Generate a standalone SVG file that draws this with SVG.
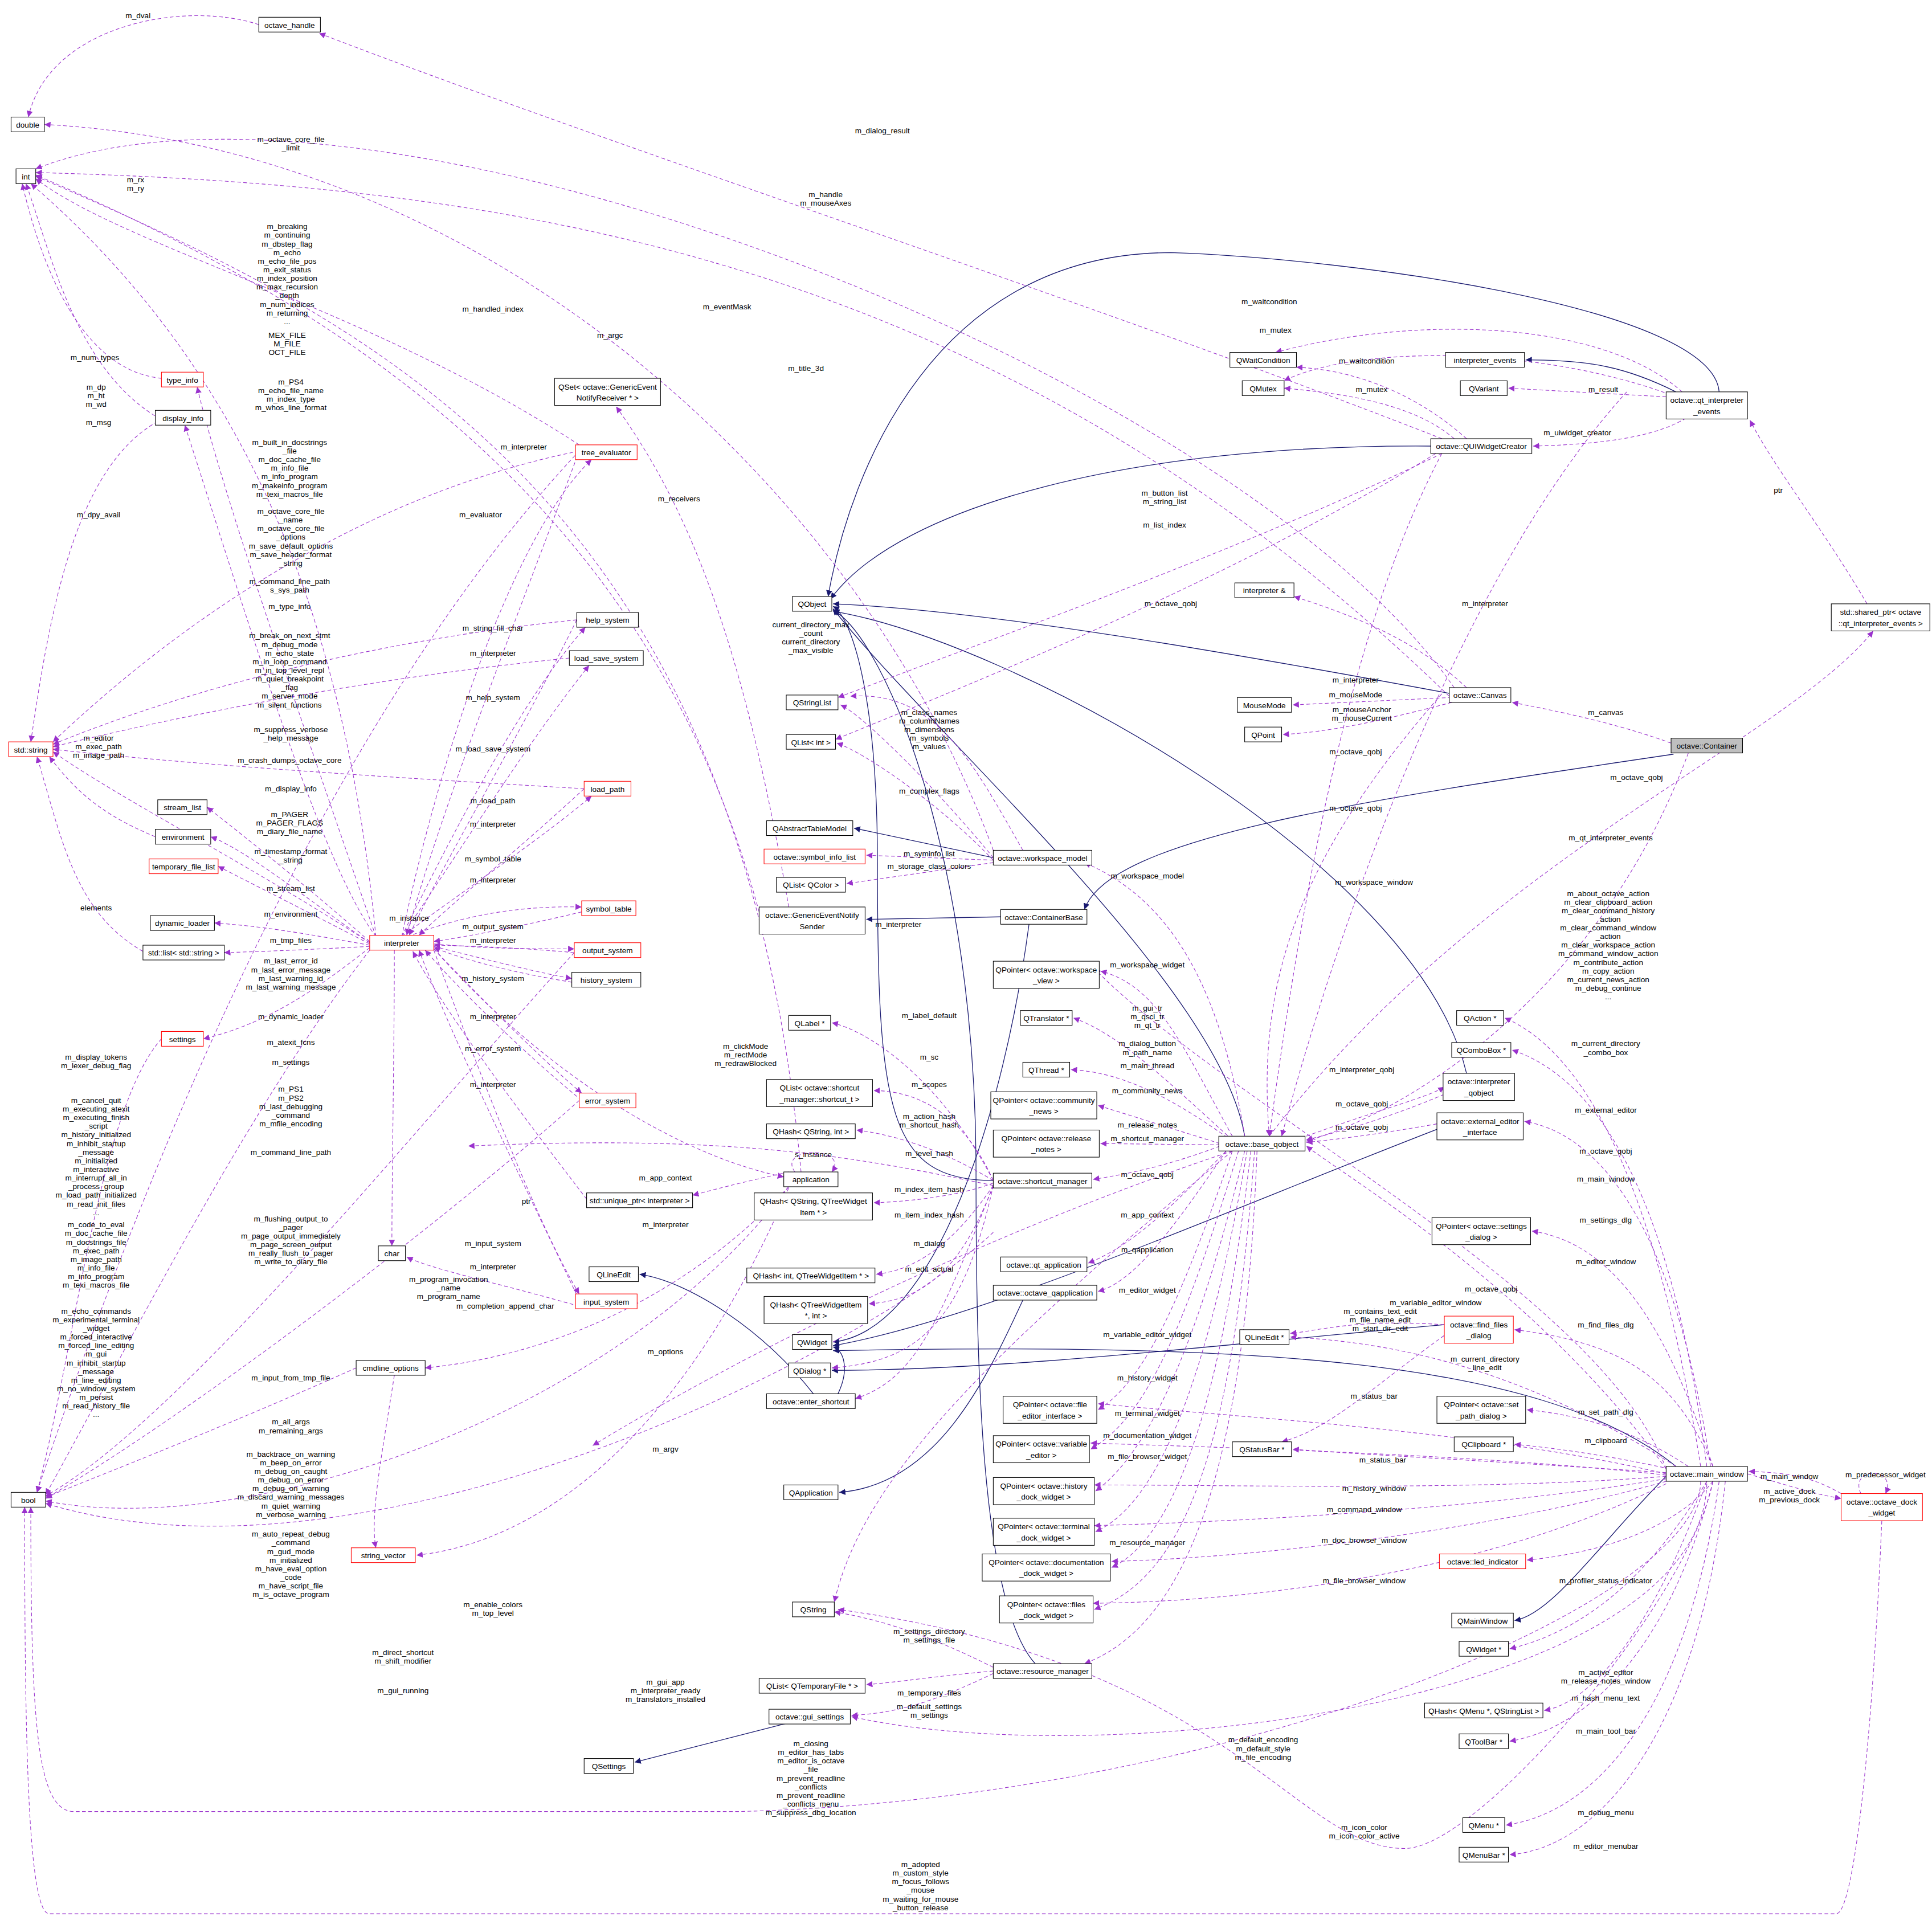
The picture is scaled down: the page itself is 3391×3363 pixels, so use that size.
<svg xmlns="http://www.w3.org/2000/svg" width="3391" height="3363" viewBox="0 0 3391 3363">
<defs>
<marker id="ap" viewBox="0 0 10 10" refX="10" refY="5" markerWidth="5" markerHeight="5" markerUnits="userSpaceOnUse" orient="auto"><path d="M0,0 L10,5 L0,10 z" fill="#9a32cd"/></marker>
<marker id="an" viewBox="0 0 10 10" refX="10" refY="5" markerWidth="5" markerHeight="5" markerUnits="userSpaceOnUse" orient="auto"><path d="M0,0 L10,5 L0,10 z" fill="#191970"/></marker>
</defs>
<style>
.n rect{fill:#fff;stroke:#000;stroke-width:0.5}
.r rect{stroke:#ff0000}
.g rect{fill:#bfbfbf}
text{font-family:"Liberation Sans",Arial,sans-serif;font-size:6.3px;fill:#000;text-anchor:middle}
.e path{fill:none;stroke:#9a32cd;stroke-width:0.5;stroke-dasharray:3,2;marker-end:url(#ap)}
.i path{fill:none;stroke:#191970;stroke-width:0.6;marker-end:url(#an)}
</style>
<rect width="3391" height="3363" fill="#fff"/>
<g transform="scale(2.163)">
<g id="connectors">
<g class="i">
<path d="M1395,318 C1390,250 1100,210 950,205 C760,205 690,380 672,484"/>
<path d="M1360,318 C1320,298 1290,292 1238,292"/>
<path d="M1163,362 C920,360 730,410 674,486"/>
<path d="M1178,563 C1000,530 800,495 676,490"/>
<path d="M1010,922 C990,800 760,600 676,494"/>
<path d="M1190,871 C1150,700 820,520 676,496"/>
<path d="M806,696 L693,672"/>
<path d="M812,744 L703,746"/>
<path d="M1358,612 C1100,650 900,680 880,738"/>
<path d="M835,750 C815,900 760,1080 676,1089"/>
<path d="M806,958 C720,958 712,900 712,700 C712,560 690,500 676,492"/>
<path d="M1352,1198 C1300,1250 1260,1310 1229,1315"/>
<path d="M1172,1075 C1000,1090 820,1112 675,1112"/>
<path d="M1180,911 C1000,980 800,1070 676,1092"/>
<path d="M830,1055 C800,1120 760,1205 681,1211"/>
<path d="M660,1131 C620,1080 560,1040 519,1034"/>
<path d="M680,1131 C690,1110 684,1095 676,1093"/>
<path d="M640,1398 L515,1430"/>
<path d="M840,1350 C795,1300 792,1100 792,950 C792,700 720,520 676,495"/>
<path d="M1360,1190 C1250,1100 1000,1090 676,1096"/>
</g>
<g class="e">
<path d="M210,20 C150,0 40,20 23,95"/>
<path d="M1170,356 C900,250 500,120 259,27"/>
<path d="M1180,558 C1000,300 300,30 29,137"/>
<path d="M305,760 C280,500 200,300 25,149"/>
<path d="M470,361 C300,250 100,200 29,145"/>
<path d="M130,340 C60,300 40,200 21,149"/>
<path d="M131,307 C60,300 30,200 18,149"/>
<path d="M128,342 C60,380 40,500 25,602"/>
<path d="M616,740 C550,500 400,300 29,142"/>
<path d="M650,951 C600,400 300,260 29,143"/>
<path d="M1176,565 C800,200 400,150 29,140"/>
<path d="M806,690 C700,400 400,120 36,101"/>
<path d="M640,736 C600,500 550,400 500,330"/>
<path d="M305,760 C250,600 180,400 160,314"/>
<path d="M305,760 C260,700 200,500 150,345"/>
<path d="M300,765 C200,700 100,650 43,610"/>
<path d="M470,366 C300,400 150,500 43,602"/>
<path d="M468,503 C300,520 150,560 43,604"/>
<path d="M462,534 C300,550 150,580 43,606"/>
<path d="M474,640 C300,630 150,620 43,608"/>
<path d="M126,679 C80,660 60,640 40,614"/>
<path d="M116,772 C60,740 50,680 30,614"/>
<path d="M300,764 C250,720 200,680 168,655"/>
<path d="M300,765 C250,730 200,690 171,679"/>
<path d="M300,766 C250,740 210,720 177,703"/>
<path d="M300,767 C260,760 220,752 174,749"/>
<path d="M300,768 C260,770 220,772 182,773"/>
<path d="M300,769 C260,800 220,830 165,843"/>
<path d="M326,760 C360,600 420,430 480,373"/>
<path d="M470,366 C420,500 360,650 330,759"/>
<path d="M326,760 C380,650 430,560 475,509"/>
<path d="M468,503 C420,600 360,700 332,759"/>
<path d="M326,760 C380,680 430,600 478,540"/>
<path d="M326,760 C380,720 440,680 480,646"/>
<path d="M474,640 C420,690 370,730 340,759"/>
<path d="M326,762 C380,740 430,735 472,736"/>
<path d="M472,740 C430,750 380,760 352,764"/>
<path d="M352,766 C400,770 430,770 466,770"/>
<path d="M466,773 C430,770 400,768 352,767"/>
<path d="M352,768 C400,780 440,790 464,794"/>
<path d="M464,797 C420,790 380,780 352,769"/>
<path d="M352,770 C400,820 440,860 472,887"/>
<path d="M472,893 C420,850 370,800 345,771"/>
<path d="M352,771 C400,900 440,1000 470,1050"/>
<path d="M470,1055 C420,950 370,850 340,771"/>
<path d="M352,770 C450,880 560,940 636,955"/>
<path d="M476,973 C420,900 360,820 335,772"/>
<path d="M640,951 C600,960 580,965 562,970"/>
<path d="M645,951 C630,930 690,930 675,951"/>
<path d="M640,963 C560,1050 450,1100 345,1110"/>
<path d="M320,1116 C310,1180 300,1230 305,1256"/>
<path d="M640,964 C560,1150 450,1250 338,1262"/>
<path d="M320,771 C320,850 318,950 318,1011"/>
<path d="M470,1060 C400,1040 350,1030 330,1020"/>
<path d="M131,843 C80,900 60,1100 30,1211"/>
<path d="M300,771 C200,900 100,1100 37,1213"/>
<path d="M289,1110 C200,1150 100,1190 37,1215"/>
<path d="M640,963 C500,1150 200,1250 37,1218"/>
<path d="M470,893 C350,1000 150,1150 37,1216"/>
<path d="M466,773 C350,900 150,1150 37,1214"/>
<path d="M470,366 C250,600 100,1000 30,1211"/>
<path d="M1380,1202 C1380,1300 1000,1460 600,1470 L60,1470 C30,1470 25,1400 25,1223"/>
<path d="M1527,1234 C1520,1400 1505,1553 1490,1553 L40,1553 C22,1553 20,1400 20,1223"/>
<path d="M1390,1202 C1370,1300 1200,1500 1140,1500 C1050,1500 1000,1350 680,1306"/>
<path d="M806,1000 C700,1100 300,1300 37,1220"/>
<path d="M1365,318 C1300,260 1150,255 1035,286"/>
<path d="M1360,322 C1250,280 1100,280 1042,309"/>
<path d="M1352,322 L1224,315"/>
<path d="M1380,330 C1360,350 1320,360 1244,362"/>
<path d="M1190,356 C1150,320 1100,300 1052,298"/>
<path d="M1180,356 C1150,330 1100,320 1042,315"/>
<path d="M1170,368 C1000,450 800,520 680,566"/>
<path d="M1165,368 C1000,470 800,550 678,600"/>
<path d="M1515,490 C1480,430 1440,380 1420,341"/>
<path d="M1190,558 C1150,520 1100,500 1050,484"/>
<path d="M1178,566 L1049,572"/>
<path d="M1178,570 C1120,585 1080,594 1041,596"/>
<path d="M1356,603 C1320,590 1280,580 1227,570"/>
<path d="M1030,922 C1200,700 1450,600 1520,512"/>
<path d="M1060,922 C1120,900 1160,890 1172,882"/>
<path d="M1172,888 C1120,910 1080,920 1060,925"/>
<path d="M1166,912 C1120,920 1090,924 1060,927"/>
<path d="M1352,1192 C1250,1050 1100,960 1060,930"/>
<path d="M1010,922 C990,800 950,730 880,700"/>
<path d="M1000,922 C960,850 940,800 893,788"/>
<path d="M1000,925 C950,880 910,840 871,826"/>
<path d="M1000,926 C950,890 910,870 869,868"/>
<path d="M990,928 L891,897"/>
<path d="M990,929 L893,928"/>
<path d="M990,930 C950,945 920,952 887,957"/>
<path d="M995,934 C950,980 920,1010 883,1025"/>
<path d="M995,934 C950,1000 920,1040 891,1048"/>
<path d="M1000,934 C960,1050 930,1120 891,1144"/>
<path d="M1005,934 C960,1080 930,1150 885,1176"/>
<path d="M1010,934 C970,1100 930,1180 889,1210"/>
<path d="M1012,934 C980,1120 940,1220 889,1243"/>
<path d="M1015,934 C990,1150 950,1250 902,1272"/>
<path d="M1018,934 C1000,1180 960,1280 888,1306"/>
<path d="M1020,934 C1010,1200 960,1320 880,1350"/>
<path d="M1000,934 C800,1100 700,1200 677,1300"/>
<path d="M1380,1190 C1350,1000 1300,860 1221,826"/>
<path d="M1385,1190 C1360,1000 1310,880 1227,852"/>
<path d="M1388,1190 C1360,1000 1300,920 1237,910"/>
<path d="M1390,1190 C1360,1100 1320,1010 1243,999"/>
<path d="M1390,1190 C1360,1120 1320,1090 1229,1079"/>
<path d="M1360,1190 C1250,1120 1150,1090 1047,1085"/>
<path d="M1370,1190 C1340,1170 1300,1150 1239,1144"/>
<path d="M1360,1193 C1300,1180 1260,1175 1229,1172"/>
<path d="M1352,1195 C1200,1185 1100,1180 1049,1176"/>
<path d="M1418,1196 C1450,1205 1470,1212 1494,1216"/>
<path d="M1494,1212 C1470,1198 1450,1195 1419,1194"/>
<path d="M1510,1212 C1500,1190 1540,1190 1530,1212"/>
<path d="M1390,1202 C1360,1240 1300,1260 1239,1266"/>
<path d="M1385,1202 C1350,1260 1300,1320 1225,1338"/>
<path d="M1385,1202 C1350,1300 1300,1380 1253,1388"/>
<path d="M1390,1202 C1360,1320 1300,1400 1225,1413"/>
<path d="M1395,1202 C1370,1380 1300,1470 1222,1481"/>
<path d="M1400,1202 C1380,1400 1300,1500 1225,1505"/>
<path d="M1352,1198 C1200,1210 1000,1205 888,1205"/>
<path d="M1352,1200 C1200,1225 1000,1235 888,1238"/>
<path d="M1352,1202 C1200,1245 1000,1265 902,1267"/>
<path d="M1352,1204 C1200,1280 1000,1300 887,1301"/>
<path d="M1352,1192 C1300,1050 1000,900 888,786"/>
<path d="M1352,1196 C1200,1160 1000,1150 891,1139"/>
<path d="M1352,1197 C1200,1180 1000,1175 885,1171"/>
<path d="M1385,1204 C1380,1380 900,1440 691,1393"/>
<path d="M1000,934 C800,1000 600,1100 481,1173"/>
<path d="M806,696 C760,640 700,580 682,572"/>
<path d="M806,698 C760,650 700,610 679,603"/>
<path d="M806,698 L703,694"/>
<path d="M806,700 L687,717"/>
<path d="M806,958 C760,870 700,835 675,830"/>
<path d="M806,958 C780,900 740,885 709,885"/>
<path d="M806,958 C760,930 720,920 695,917"/>
<path d="M806,960 C780,970 740,975 709,976"/>
<path d="M806,962 C780,1000 750,1030 711,1034"/>
<path d="M806,962 C780,1030 750,1055 705,1058"/>
<path d="M806,962 C780,1080 740,1105 675,1110"/>
<path d="M806,962 C760,1080 740,1120 694,1135"/>
<path d="M806,962 C700,940 600,920 380,930"/>
<path d="M806,1353 C760,1330 720,1315 677,1308"/>
<path d="M806,1356 C760,1360 730,1365 703,1367"/>
<path d="M806,1358 C760,1380 730,1390 691,1392"/>
<path d="M1172,1075 C1100,1070 1070,1080 1047,1082"/>
<path d="M1180,1078 C1120,1120 1080,1160 1040,1170"/>
<path d="M1170,563 C1050,700 1020,800 1030,922"/>
<path d="M1320,318 C1200,450 1100,700 1040,922"/>
<path d="M1170,368 C1100,500 1060,700 1030,922"/>
<path d="M1370,611 C1300,800 1150,900 1060,926"/>
<path d="M830,690 C790,620 760,560 690,565"/>
</g>
</g>
<g id="labels">
<text x="112" y="15">m_dval</text>
<text x="236" y="115">m_octave_core_file</text><text x="236" y="122">_limit</text>
<text x="110" y="148">m_rx</text><text x="110" y="155">m_ry</text>
<text x="233" y="186">m_breaking</text><text x="233" y="193">m_continuing</text><text x="233" y="200">m_dbstep_flag</text><text x="233" y="207">m_echo</text><text x="233" y="214">m_echo_file_pos</text><text x="233" y="221">m_exit_status</text><text x="233" y="228">m_index_position</text><text x="233" y="235">m_max_recursion</text><text x="233" y="242">_depth</text><text x="233" y="249">m_num_indices</text><text x="233" y="256">m_returning</text><text x="233" y="263">...</text>
<text x="400" y="253">m_handled_index</text>
<text x="495" y="274">m_argc</text>
<text x="233" y="274">MEX_FILE</text><text x="233" y="281">M_FILE</text><text x="233" y="288">OCT_FILE</text>
<text x="77" y="292">m_num_types</text>
<text x="78" y="316">m_dp</text><text x="78" y="323">m_ht</text><text x="78" y="330">m_wd</text><text x="80" y="345">m_msg</text>
<text x="236" y="312">m_PS4</text><text x="236" y="319">m_echo_file_name</text><text x="236" y="326">m_index_type</text><text x="236" y="333">m_whos_line_format</text>
<text x="235" y="361">m_built_in_docstrings</text><text x="235" y="368">_file</text><text x="235" y="375">m_doc_cache_file</text><text x="235" y="382">m_info_file</text><text x="235" y="389">m_info_program</text><text x="235" y="396">m_makeinfo_program</text><text x="235" y="403">m_texi_macros_file</text>
<text x="236" y="417">m_octave_core_file</text><text x="236" y="424">_name</text><text x="236" y="431">m_octave_core_file</text><text x="236" y="438">_options</text><text x="236" y="445">m_save_default_options</text><text x="236" y="452">m_save_header_format</text><text x="236" y="459">_string</text>
<text x="80" y="420">m_dpy_avail</text>
<text x="235" y="474">m_command_line_path</text><text x="235" y="481">s_sys_path</text>
<text x="235" y="494">m_type_info</text>
<text x="235" y="518">m_break_on_next_stmt</text><text x="235" y="525">m_debug_mode</text><text x="235" y="532">m_echo_state</text><text x="235" y="539">m_in_loop_command</text><text x="235" y="546">m_in_top_level_repl</text><text x="235" y="553">m_quiet_breakpoint</text><text x="235" y="560">_flag</text><text x="235" y="567">m_server_mode</text><text x="235" y="574">m_silent_functions</text>
<text x="236" y="594">m_suppress_verbose</text><text x="236" y="601">_help_message</text>
<text x="80" y="601">m_editor</text><text x="80" y="608">m_exec_path</text><text x="80" y="615">m_image_path</text>
<text x="235" y="619">m_crash_dumps_octave_core</text>
<text x="400" y="512">m_string_fill_char</text>
<text x="400" y="532">m_interpreter</text>
<text x="400" y="568">m_help_system</text>
<text x="400" y="610">m_load_save_system</text>
<text x="400" y="652">m_load_path</text>
<text x="400" y="671">m_interpreter</text>
<text x="400" y="699">m_symbol_table</text>
<text x="400" y="716">m_interpreter</text>
<text x="400" y="754">m_output_system</text>
<text x="400" y="765">m_interpreter</text>
<text x="400" y="796">m_history_system</text>
<text x="400" y="827">m_interpreter</text>
<text x="400" y="853">m_error_system</text>
<text x="400" y="882">m_interpreter</text>
<text x="390" y="420">m_evaluator</text>
<text x="425" y="365">m_interpreter</text>
<text x="236" y="642">m_display_info</text>
<text x="235" y="663">m_PAGER</text><text x="235" y="670">m_PAGER_FLAGS</text><text x="235" y="677">m_diary_file_name</text>
<text x="236" y="693">m_timestamp_format</text><text x="236" y="700">_string</text>
<text x="236" y="723">m_stream_list</text>
<text x="236" y="744">m_environment</text>
<text x="78" y="739">elements</text>
<text x="332" y="747">m_instance</text>
<text x="236" y="765">m_tmp_files</text>
<text x="236" y="782">m_last_error_id</text><text x="236" y="789">m_last_error_message</text><text x="236" y="796">m_last_warning_id</text><text x="236" y="803">m_last_warning_message</text>
<text x="236" y="827">m_dynamic_loader</text>
<text x="236" y="848">m_atexit_fcns</text>
<text x="236" y="864">m_settings</text>
<text x="78" y="860">m_display_tokens</text><text x="78" y="867">m_lexer_debug_flag</text>
<text x="236" y="886">m_PS1</text><text x="236" y="893">m_PS2</text><text x="236" y="900">m_last_debugging</text><text x="236" y="907">_command</text><text x="236" y="914">m_mfile_encoding</text>
<text x="78" y="895">m_cancel_quit</text><text x="78" y="902">m_executing_atexit</text><text x="78" y="909">m_executing_finish</text><text x="78" y="916">_script</text><text x="78" y="923">m_history_initialized</text><text x="78" y="930">m_inhibit_startup</text><text x="78" y="937">_message</text><text x="78" y="944">m_initialized</text><text x="78" y="951">m_interactive</text><text x="78" y="958">m_interrupt_all_in</text><text x="78" y="965">_process_group</text><text x="78" y="972">m_load_path_initialized</text><text x="78" y="979">m_read_init_files</text><text x="78" y="986">...</text>
<text x="236" y="937">m_command_line_path</text>
<text x="540" y="958">m_app_context</text>
<text x="427" y="977">ptr</text>
<text x="540" y="996">m_interpreter</text>
<text x="78" y="996">m_code_to_eval</text><text x="78" y="1003">m_doc_cache_file</text><text x="78" y="1010">m_docstrings_file</text><text x="78" y="1017">m_exec_path</text><text x="78" y="1024">m_image_path</text><text x="78" y="1031">m_info_file</text><text x="78" y="1038">m_info_program</text><text x="78" y="1045">m_texi_macros_file</text>
<text x="236" y="991">m_flushing_output_to</text><text x="236" y="998">_pager</text><text x="236" y="1005">m_page_output_immediately</text><text x="236" y="1012">m_page_screen_output</text><text x="236" y="1019">m_really_flush_to_pager</text><text x="236" y="1026">m_write_to_diary_file</text>
<text x="400" y="1011">m_input_system</text>
<text x="400" y="1030">m_interpreter</text>
<text x="364" y="1040">m_program_invocation</text><text x="364" y="1047">_name</text><text x="364" y="1054">m_program_name</text>
<text x="410" y="1062">m_completion_append_char</text>
<text x="78" y="1066">m_echo_commands</text><text x="78" y="1073">m_experimental_terminal</text><text x="78" y="1080">_widget</text><text x="78" y="1087">m_forced_interactive</text><text x="78" y="1094">m_forced_line_editing</text><text x="78" y="1101">m_gui</text><text x="78" y="1108">m_inhibit_startup</text><text x="78" y="1115">_message</text><text x="78" y="1122">m_line_editing</text><text x="78" y="1129">m_no_window_system</text><text x="78" y="1136">m_persist</text><text x="78" y="1143">m_read_history_file</text><text x="78" y="1150">...</text>
<text x="540" y="1099">m_options</text>
<text x="236" y="1120">m_input_from_tmp_file</text>
<text x="236" y="1156">m_all_args</text><text x="236" y="1163">m_remaining_args</text>
<text x="236" y="1182">m_backtrace_on_warning</text><text x="236" y="1189">m_beep_on_error</text><text x="236" y="1196">m_debug_on_caught</text><text x="236" y="1203">m_debug_on_error</text><text x="236" y="1210">m_debug_on_warning</text><text x="236" y="1217">m_discard_warning_messages</text><text x="236" y="1224">m_quiet_warning</text><text x="236" y="1231">m_verbose_warning</text>
<text x="540" y="1178">m_argv</text>
<text x="236" y="1247">m_auto_repeat_debug</text><text x="236" y="1254">_command</text><text x="236" y="1261">m_gud_mode</text><text x="236" y="1268">m_initialized</text>
<text x="236" y="1275">m_have_eval_option</text><text x="236" y="1282">_code</text><text x="236" y="1289">m_have_script_file</text><text x="236" y="1296">m_is_octave_program</text>
<text x="400" y="1304">m_enable_colors</text><text x="400" y="1311">m_top_level</text>
<text x="327" y="1343">m_direct_shortcut</text><text x="327" y="1350">m_shift_modifier</text>
<text x="327" y="1374">m_gui_running</text>
<text x="540" y="1367">m_gui_app</text><text x="540" y="1374">m_interpreter_ready</text><text x="540" y="1381">m_translators_installed</text>
<text x="658" y="1417">m_closing</text><text x="658" y="1424">m_editor_has_tabs</text><text x="658" y="1431">m_editor_is_octave</text><text x="658" y="1438">_file</text><text x="658" y="1445">m_prevent_readline</text><text x="658" y="1452">_conflicts</text><text x="658" y="1459">m_prevent_readline</text><text x="658" y="1466">_conflicts_menu</text><text x="658" y="1473">m_suppress_dbg_location</text>
<text x="747" y="1515">m_adopted</text><text x="747" y="1522">m_custom_style</text><text x="747" y="1529">m_focus_follows</text><text x="747" y="1536">_mouse</text><text x="747" y="1543">m_waiting_for_mouse</text><text x="747" y="1550">_button_release</text>
<text x="605" y="851">m_clickMode</text><text x="605" y="858">m_rectMode</text><text x="605" y="865">m_redrawBlocked</text>
<text x="590" y="251">m_eventMask</text>
<text x="551" y="407">m_receivers</text>
<text x="654" y="301">m_title_3d</text>
<text x="670" y="160">m_handle</text><text x="670" y="167">m_mouseAxes</text>
<text x="716" y="108">m_dialog_result</text>
<text x="1030" y="247">m_waitcondition</text>
<text x="1035" y="270">m_mutex</text>
<text x="1109" y="295">m_waitcondition</text>
<text x="1113" y="318">m_mutex</text>
<text x="1301" y="318">m_result</text>
<text x="1280" y="353">m_uiwidget_creator</text>
<text x="1443" y="400">ptr</text>
<text x="945" y="402">m_button_list</text><text x="945" y="409">m_string_list</text>
<text x="945" y="428">m_list_index</text>
<text x="1205" y="492">m_interpreter</text>
<text x="1100" y="554">m_interpreter</text>
<text x="950" y="492">m_octave_qobj</text>
<text x="1100" y="566">m_mouseMode</text>
<text x="1105" y="578">m_mouseAnchor</text><text x="1105" y="585">m_mouseCurrent</text>
<text x="1100" y="612">m_octave_qobj</text>
<text x="1303" y="580">m_canvas</text>
<text x="1100" y="658">m_octave_qobj</text>
<text x="754" y="580">m_class_names</text><text x="754" y="587">m_columnNames</text><text x="754" y="594">m_dimensions</text><text x="754" y="601">m_symbols</text><text x="754" y="608">m_values</text>
<text x="658" y="509">current_directory_max</text><text x="658" y="516">_count</text><text x="658" y="523">current_directory</text><text x="658" y="530">_max_visible</text>
<text x="754" y="644">m_complex_flags</text>
<text x="754" y="695">m_syminfo_list</text>
<text x="754" y="705">m_storage_class_colors</text>
<text x="1328" y="633">m_octave_qobj</text>
<text x="1307" y="682">m_qt_interpreter_events</text>
<text x="931" y="713">m_workspace_model</text>
<text x="1115" y="718">m_workspace_window</text>
<text x="729" y="752">m_interpreter</text>
<text x="931" y="785">m_workspace_widget</text>
<text x="1305" y="727">m_about_octave_action</text><text x="1305" y="734">m_clear_clipboard_action</text><text x="1305" y="741">m_clear_command_history</text><text x="1305" y="748">_action</text><text x="1305" y="755">m_clear_command_window</text><text x="1305" y="762">_action</text><text x="1305" y="769">m_clear_workspace_action</text><text x="1305" y="776">m_command_window_action</text><text x="1305" y="783">m_contribute_action</text><text x="1305" y="790">m_copy_action</text><text x="1305" y="797">m_current_news_action</text><text x="1305" y="804">m_debug_continue</text><text x="1305" y="811">...</text>
<text x="931" y="820">m_gui_tr</text><text x="931" y="827">m_qsci_tr</text><text x="931" y="834">m_qt_tr</text>
<text x="931" y="849">m_dialog_button</text><text x="931" y="856">m_path_name</text>
<text x="931" y="867">m_main_thread</text>
<text x="931" y="887">m_community_news</text>
<text x="931" y="915">m_release_notes</text>
<text x="931" y="926">m_shortcut_manager</text>
<text x="754" y="826">m_label_default</text>
<text x="754" y="860">m_sc</text>
<text x="754" y="882">m_scopes</text>
<text x="754" y="908">m_action_hash</text><text x="754" y="915">m_shortcut_hash</text>
<text x="660" y="939">s_instance</text>
<text x="754" y="938">m_level_hash</text>
<text x="754" y="967">m_index_item_hash</text>
<text x="754" y="988">m_item_index_hash</text>
<text x="754" y="1011">m_dialog</text>
<text x="754" y="1032">m_edit_actual</text>
<text x="1105" y="870">m_interpreter_qobj</text>
<text x="1105" y="898">m_octave_qobj</text>
<text x="1105" y="917">m_octave_qobj</text>
<text x="1303" y="849">m_current_directory</text><text x="1303" y="856">_combo_box</text>
<text x="1303" y="903">m_external_editor</text>
<text x="1303" y="936">m_octave_qobj</text>
<text x="1303" y="959">m_main_window</text>
<text x="931" y="955">m_octave_qobj</text>
<text x="1303" y="992">m_settings_dlg</text>
<text x="931" y="988">m_app_context</text>
<text x="931" y="1016">m_qapplication</text>
<text x="1303" y="1026">m_editor_window</text>
<text x="931" y="1049">m_editor_widget</text>
<text x="1210" y="1048">m_octave_qobj</text>
<text x="1165" y="1059">m_variable_editor_window</text>
<text x="1120" y="1066">m_contains_text_edit</text><text x="1120" y="1073">m_file_name_edit</text><text x="1120" y="1080">m_start_dir_edit</text>
<text x="1303" y="1077">m_find_files_dlg</text>
<text x="931" y="1085">m_variable_editor_widget</text>
<text x="1205" y="1105">m_current_directory</text><text x="1205" y="1112">_line_edit</text>
<text x="931" y="1120">m_history_widget</text>
<text x="1115" y="1135">m_status_bar</text>
<text x="1303" y="1148">m_set_path_dlg</text>
<text x="931" y="1149">m_terminal_widget</text>
<text x="931" y="1167">m_documentation_widget</text>
<text x="1303" y="1171">m_clipboard</text>
<text x="1122" y="1187">m_status_bar</text>
<text x="931" y="1184">m_file_browser_widget</text>
<text x="1115" y="1210">m_history_window</text>
<text x="1107" y="1227">m_command_window</text>
<text x="1107" y="1252">m_doc_browser_window</text>
<text x="931" y="1254">m_resource_manager</text>
<text x="1452" y="1200">m_main_window</text>
<text x="1452" y="1212">m_active_dock</text><text x="1452" y="1219">m_previous_dock</text>
<text x="1530" y="1199">m_predecessor_widget</text>
<text x="1303" y="1285">m_profiler_status_indicator</text>
<text x="1107" y="1285">m_file_browser_window</text>
<text x="754" y="1326">m_settings_directory</text><text x="754" y="1333">m_settings_file</text>
<text x="754" y="1376">m_temporary_files</text>
<text x="754" y="1387">m_default_settings</text><text x="754" y="1394">m_settings</text>
<text x="1303" y="1359">m_active_editor</text><text x="1303" y="1366">m_release_notes_window</text>
<text x="1303" y="1380">m_hash_menu_text</text>
<text x="1303" y="1407">m_main_tool_bar</text>
<text x="1025" y="1414">m_default_encoding</text><text x="1025" y="1421">m_default_style</text><text x="1025" y="1428">m_file_encoding</text>
<text x="1303" y="1473">m_debug_menu</text>
<text x="1107" y="1485">m_icon_color</text><text x="1107" y="1492">m_icon_color_active</text>
<text x="1303" y="1500">m_editor_menubar</text>
</g>
<g id="n_octave_handle" class="n"><rect x="210" y="14" width="50" height="12"/><text x="235" y="22.5">octave_handle</text></g>
<g id="n_double" class="n"><rect x="9" y="95" width="27" height="12"/><text x="22.5" y="103.5">double</text></g>
<g id="n_int" class="n"><rect x="13" y="137" width="16" height="12"/><text x="21" y="145.5">int</text></g>
<g id="n_type_info" class="n r"><rect x="131" y="302" width="34" height="12"/><text x="148" y="310.5">type_info</text></g>
<g id="n_display_info" class="n"><rect x="126" y="333" width="45" height="12"/><text x="148.5" y="341.5">display_info</text></g>
<g id="n_std_string" class="n r"><rect x="7" y="602" width="36" height="12"/><text x="25" y="610.5">std::string</text></g>
<g id="n_stream_list" class="n"><rect x="128" y="649" width="40" height="12"/><text x="148" y="657.5">stream_list</text></g>
<g id="n_environment" class="n"><rect x="126" y="673" width="45" height="12"/><text x="148.5" y="681.5">environment</text></g>
<g id="n_temporary_file_list" class="n r"><rect x="121" y="697" width="56" height="12"/><text x="149" y="705.5">temporary_file_list</text></g>
<g id="n_dynamic_loader" class="n"><rect x="122" y="743" width="52" height="12"/><text x="148" y="751.5">dynamic_loader</text></g>
<g id="n_std_list" class="n"><rect x="116" y="767" width="66" height="12"/><text x="149" y="775.5">std::list&lt; std::string &gt;</text></g>
<g id="n_settings" class="n r"><rect x="131" y="837" width="34" height="12"/><text x="148" y="845.5">settings</text></g>
<g id="n_bool" class="n"><rect x="9" y="1211" width="28" height="12"/><text x="23" y="1219.5">bool</text></g>
<g id="n_char" class="n"><rect x="307" y="1011" width="22" height="12"/><text x="318" y="1019.5">char</text></g>
<g id="n_cmdline_options" class="n"><rect x="289" y="1104" width="56" height="12"/><text x="317" y="1112.5">cmdline_options</text></g>
<g id="n_string_vector" class="n r"><rect x="285" y="1256" width="52" height="12"/><text x="311" y="1264.5">string_vector</text></g>
<g id="n_interpreter" class="n r"><rect x="300" y="759" width="52" height="12"/><text x="326" y="767.5">interpreter</text></g>
<g id="n_tree_evaluator" class="n r"><rect x="467" y="361" width="50" height="12"/><text x="492" y="369.5">tree_evaluator</text></g>
<g id="n_help_system" class="n"><rect x="468" y="497" width="50" height="12"/><text x="493" y="505.5">help_system</text></g>
<g id="n_load_save_system" class="n"><rect x="462" y="528" width="60" height="12"/><text x="492" y="536.5">load_save_system</text></g>
<g id="n_load_path" class="n r"><rect x="474" y="634" width="38" height="12"/><text x="493" y="642.5">load_path</text></g>
<g id="n_symbol_table" class="n r"><rect x="472" y="731" width="44" height="12"/><text x="494" y="739.5">symbol_table</text></g>
<g id="n_output_system" class="n r"><rect x="466" y="765" width="54" height="12"/><text x="493" y="773.5">output_system</text></g>
<g id="n_history_system" class="n"><rect x="464" y="789" width="56" height="12"/><text x="492" y="797.5">history_system</text></g>
<g id="n_error_system" class="n r"><rect x="470" y="887" width="46" height="12"/><text x="493" y="895.5">error_system</text></g>
<g id="n_application" class="n"><rect x="636" y="951" width="44" height="12"/><text x="658" y="959.5">application</text></g>
<g id="n_unique_ptr" class="n"><rect x="476" y="968" width="86" height="12"/><text x="519" y="976.5">std::unique_ptr&lt; interpreter &gt;</text></g>
<g id="n_input_system" class="n r"><rect x="467" y="1050" width="50" height="12"/><text x="492" y="1058.5">input_system</text></g>
<g id="n_QLineEdit" class="n"><rect x="478" y="1028" width="40" height="12"/><text x="498" y="1036.5">QLineEdit</text></g>
<g id="n_QSet" class="n"><rect x="450" y="307" width="86" height="22"/><text x="493" y="316">QSet&lt; octave::GenericEvent</text><text x="493" y="325">NotifyReceiver * &gt;</text></g>
<g id="n_GenericEventNotifySender" class="n"><rect x="616" y="736" width="86" height="22"/><text x="659" y="745">octave::GenericEventNotify</text><text x="659" y="754">Sender</text></g>
<g id="n_enter_shortcut" class="n"><rect x="622" y="1131" width="72" height="12"/><text x="658" y="1139.5">octave::enter_shortcut</text></g>
<g id="n_QApplication" class="n"><rect x="636" y="1205" width="44" height="12"/><text x="658" y="1213.5">QApplication</text></g>
<g id="n_QWidget" class="n"><rect x="643" y="1083" width="32" height="12"/><text x="659" y="1091.5">QWidget</text></g>
<g id="n_QDialogp" class="n"><rect x="640" y="1106" width="34" height="12"/><text x="657" y="1114.5">QDialog *</text></g>
<g id="n_QListTmp" class="n"><rect x="616" y="1362" width="86" height="12"/><text x="659" y="1370.5">QList&lt; QTemporaryFile * &gt;</text></g>
<g id="n_gui_settings" class="n"><rect x="624" y="1387" width="66" height="12"/><text x="657" y="1395.5">octave::gui_settings</text></g>
<g id="n_QSettings" class="n"><rect x="474" y="1427" width="40" height="12"/><text x="494" y="1435.5">QSettings</text></g>
<g id="n_QObject" class="n"><rect x="643" y="484" width="32" height="12"/><text x="659" y="492.5">QObject</text></g>
<g id="n_QStringList" class="n"><rect x="638" y="564" width="42" height="12"/><text x="659" y="572.5">QStringList</text></g>
<g id="n_QListint" class="n"><rect x="638" y="596" width="40" height="12"/><text x="658" y="604.5">QList&lt; int &gt;</text></g>
<g id="n_QAbstractTableModel" class="n"><rect x="622" y="666" width="70" height="12"/><text x="657" y="674.5">QAbstractTableModel</text></g>
<g id="n_symbol_info_list" class="n r"><rect x="620" y="689" width="82" height="12"/><text x="661" y="697.5">octave::symbol_info_list</text></g>
<g id="n_QListQColor" class="n"><rect x="630" y="712" width="56" height="12"/><text x="658" y="720.5">QList&lt; QColor &gt;</text></g>
<g id="n_workspace_model" class="n"><rect x="806" y="690" width="80" height="12"/><text x="846" y="698.5">octave::workspace_model</text></g>
<g id="n_ContainerBase" class="n"><rect x="812" y="738" width="70" height="12"/><text x="847" y="746.5">octave::ContainerBase</text></g>
<g id="n_QP_workspace_view" class="n"><rect x="806" y="780" width="86" height="22"/><text x="849" y="789">QPointer&lt; octave::workspace</text><text x="849" y="798">_view &gt;</text></g>
<g id="n_QTranslator" class="n"><rect x="828" y="820" width="42" height="12"/><text x="849" y="828.5">QTranslator *</text></g>
<g id="n_QThread" class="n"><rect x="830" y="862" width="38" height="12"/><text x="849" y="870.5">QThread *</text></g>
<g id="n_QP_community" class="n"><rect x="804" y="886" width="86" height="22"/><text x="847" y="895">QPointer&lt; octave::community</text><text x="847" y="904">_news &gt;</text></g>
<g id="n_QP_release" class="n"><rect x="806" y="917" width="86" height="22"/><text x="849" y="926">QPointer&lt; octave::release</text><text x="849" y="935">_notes &gt;</text></g>
<g id="n_QLabel" class="n"><rect x="640" y="824" width="34" height="12"/><text x="657" y="832.5">QLabel *</text></g>
<g id="n_QList_shortcut" class="n"><rect x="622" y="876" width="86" height="22"/><text x="665" y="885">QList&lt; octave::shortcut</text><text x="665" y="894">_manager::shortcut_t &gt;</text></g>
<g id="n_QHash_QString_int" class="n"><rect x="622" y="912" width="72" height="12"/><text x="658" y="920.5">QHash&lt; QString, int &gt;</text></g>
<g id="n_QHash_QString_Tree" class="n"><rect x="612" y="968" width="96" height="22"/><text x="660" y="977">QHash&lt; QString, QTreeWidget</text><text x="660" y="986">Item * &gt;</text></g>
<g id="n_QHash_int_Tree" class="n"><rect x="606" y="1029" width="104" height="12"/><text x="658" y="1037.5">QHash&lt; int, QTreeWidgetItem * &gt;</text></g>
<g id="n_QHash_Tree_int" class="n"><rect x="620" y="1052" width="84" height="22"/><text x="662" y="1061">QHash&lt; QTreeWidgetItem</text><text x="662" y="1070">*, int &gt;</text></g>
<g id="n_shortcut_manager" class="n"><rect x="806" y="952" width="80" height="12"/><text x="846" y="960.5">octave::shortcut_manager</text></g>
<g id="n_qt_application" class="n"><rect x="812" y="1020" width="70" height="12"/><text x="847" y="1028.5">octave::qt_application</text></g>
<g id="n_octave_qapplication" class="n"><rect x="806" y="1043" width="84" height="12"/><text x="848" y="1051.5">octave::octave_qapplication</text></g>
<g id="n_QP_file_editor" class="n"><rect x="814" y="1133" width="76" height="22"/><text x="852" y="1142">QPointer&lt; octave::file</text><text x="852" y="1151">_editor_interface &gt;</text></g>
<g id="n_QP_variable_editor" class="n"><rect x="806" y="1165" width="78" height="22"/><text x="845" y="1174">QPointer&lt; octave::variable</text><text x="845" y="1183">_editor &gt;</text></g>
<g id="n_QP_history" class="n"><rect x="806" y="1199" width="82" height="22"/><text x="847" y="1208">QPointer&lt; octave::history</text><text x="847" y="1217">_dock_widget &gt;</text></g>
<g id="n_QP_terminal" class="n"><rect x="806" y="1232" width="82" height="22"/><text x="847" y="1241">QPointer&lt; octave::terminal</text><text x="847" y="1250">_dock_widget &gt;</text></g>
<g id="n_QP_documentation" class="n"><rect x="797" y="1261" width="104" height="22"/><text x="849" y="1270">QPointer&lt; octave::documentation</text><text x="849" y="1279">_dock_widget &gt;</text></g>
<g id="n_QP_files" class="n"><rect x="811" y="1295" width="76" height="22"/><text x="849" y="1304">QPointer&lt; octave::files</text><text x="849" y="1313">_dock_widget &gt;</text></g>
<g id="n_QString" class="n"><rect x="643" y="1300" width="34" height="12"/><text x="660" y="1308.5">QString</text></g>
<g id="n_resource_manager" class="n"><rect x="806" y="1350" width="80" height="12"/><text x="846" y="1358.5">octave::resource_manager</text></g>
<g id="n_base_qobject" class="n"><rect x="989" y="922" width="70" height="12"/><text x="1024" y="930.5">octave::base_qobject</text></g>
<g id="n_QWaitCondition" class="n"><rect x="998" y="286" width="54" height="12"/><text x="1025" y="294.5">QWaitCondition</text></g>
<g id="n_QMutex" class="n"><rect x="1008" y="309" width="34" height="12"/><text x="1025" y="317.5">QMutex</text></g>
<g id="n_interpreter_events" class="n"><rect x="1173" y="286" width="64" height="12"/><text x="1205" y="294.5">interpreter_events</text></g>
<g id="n_QVariant" class="n"><rect x="1185" y="309" width="38" height="12"/><text x="1204" y="317.5">QVariant</text></g>
<g id="n_qt_interpreter_events" class="n"><rect x="1352" y="318" width="66" height="22"/><text x="1385" y="327">octave::qt_interpreter</text><text x="1385" y="336">_events</text></g>
<g id="n_QUIWidgetCreator" class="n"><rect x="1161" y="356" width="82" height="12"/><text x="1202" y="364.5">octave::QUIWidgetCreator</text></g>
<g id="n_interpreter_ref" class="n"><rect x="1002" y="473" width="48" height="12"/><text x="1026" y="481.5">interpreter &amp;</text></g>
<g id="n_MouseMode" class="n"><rect x="1004" y="566" width="44" height="12"/><text x="1026" y="574.5">MouseMode</text></g>
<g id="n_QPoint" class="n"><rect x="1010" y="590" width="30" height="12"/><text x="1025" y="598.5">QPoint</text></g>
<g id="n_Canvas" class="n"><rect x="1176" y="558" width="50" height="12"/><text x="1201" y="566.5">octave::Canvas</text></g>
<g id="n_Container" class="n g"><rect x="1356" y="599" width="58" height="12"/><text x="1385" y="607.5">octave::Container</text></g>
<g id="n_shared_ptr" class="n"><rect x="1486" y="490" width="80" height="22"/><text x="1526" y="499">std::shared_ptr&lt; octave</text><text x="1526" y="508">::qt_interpreter_events &gt;</text></g>
<g id="n_interpreter_qobject" class="n"><rect x="1171" y="871" width="58" height="22"/><text x="1200" y="880">octave::interpreter</text><text x="1200" y="889">_qobject</text></g>
<g id="n_external_editor" class="n"><rect x="1166" y="903" width="70" height="22"/><text x="1201" y="912">octave::external_editor</text><text x="1201" y="921">_interface</text></g>
<g id="n_QAction" class="n"><rect x="1182" y="820" width="38" height="12"/><text x="1201" y="828.5">QAction *</text></g>
<g id="n_QComboBox" class="n"><rect x="1178" y="846" width="48" height="12"/><text x="1202" y="854.5">QComboBox *</text></g>
<g id="n_QP_settings" class="n"><rect x="1162" y="988" width="80" height="22"/><text x="1202" y="997">QPointer&lt; octave::settings</text><text x="1202" y="1006">_dialog &gt;</text></g>
<g id="n_find_files" class="n r"><rect x="1172" y="1068" width="56" height="22"/><text x="1200" y="1077">octave::find_files</text><text x="1200" y="1086">_dialog</text></g>
<g id="n_QLineEditp" class="n"><rect x="1006" y="1079" width="40" height="12"/><text x="1026" y="1087.5">QLineEdit *</text></g>
<g id="n_QP_set_path" class="n"><rect x="1166" y="1133" width="72" height="22"/><text x="1202" y="1142">QPointer&lt; octave::set</text><text x="1202" y="1151">_path_dialog &gt;</text></g>
<g id="n_QClipboard" class="n"><rect x="1180" y="1166" width="48" height="12"/><text x="1204" y="1174.5">QClipboard *</text></g>
<g id="n_QStatusBar" class="n"><rect x="1000" y="1170" width="48" height="12"/><text x="1024" y="1178.5">QStatusBar *</text></g>
<g id="n_main_window" class="n"><rect x="1352" y="1190" width="66" height="12"/><text x="1385" y="1198.5">octave::main_window</text></g>
<g id="n_octave_dock_widget" class="n r"><rect x="1494" y="1212" width="66" height="22"/><text x="1527" y="1221">octave::octave_dock</text><text x="1527" y="1230">_widget</text></g>
<g id="n_led_indicator" class="n r"><rect x="1168" y="1261" width="70" height="12"/><text x="1203" y="1269.5">octave::led_indicator</text></g>
<g id="n_QMainWindow" class="n"><rect x="1178" y="1309" width="50" height="12"/><text x="1203" y="1317.5">QMainWindow</text></g>
<g id="n_QWidgetp" class="n"><rect x="1184" y="1332" width="40" height="12"/><text x="1204" y="1340.5">QWidget *</text></g>
<g id="n_QHash_menu" class="n"><rect x="1156" y="1382" width="96" height="12"/><text x="1204" y="1390.5">QHash&lt; QMenu *, QStringList &gt;</text></g>
<g id="n_QToolBar" class="n"><rect x="1184" y="1407" width="40" height="12"/><text x="1204" y="1415.5">QToolBar *</text></g>
<g id="n_QMenu" class="n"><rect x="1187" y="1475" width="34" height="12"/><text x="1204" y="1483.5">QMenu *</text></g>
<g id="n_QMenuBar" class="n"><rect x="1184" y="1499" width="40" height="12"/><text x="1204" y="1507.5">QMenuBar *</text></g>
</g>
</svg>
